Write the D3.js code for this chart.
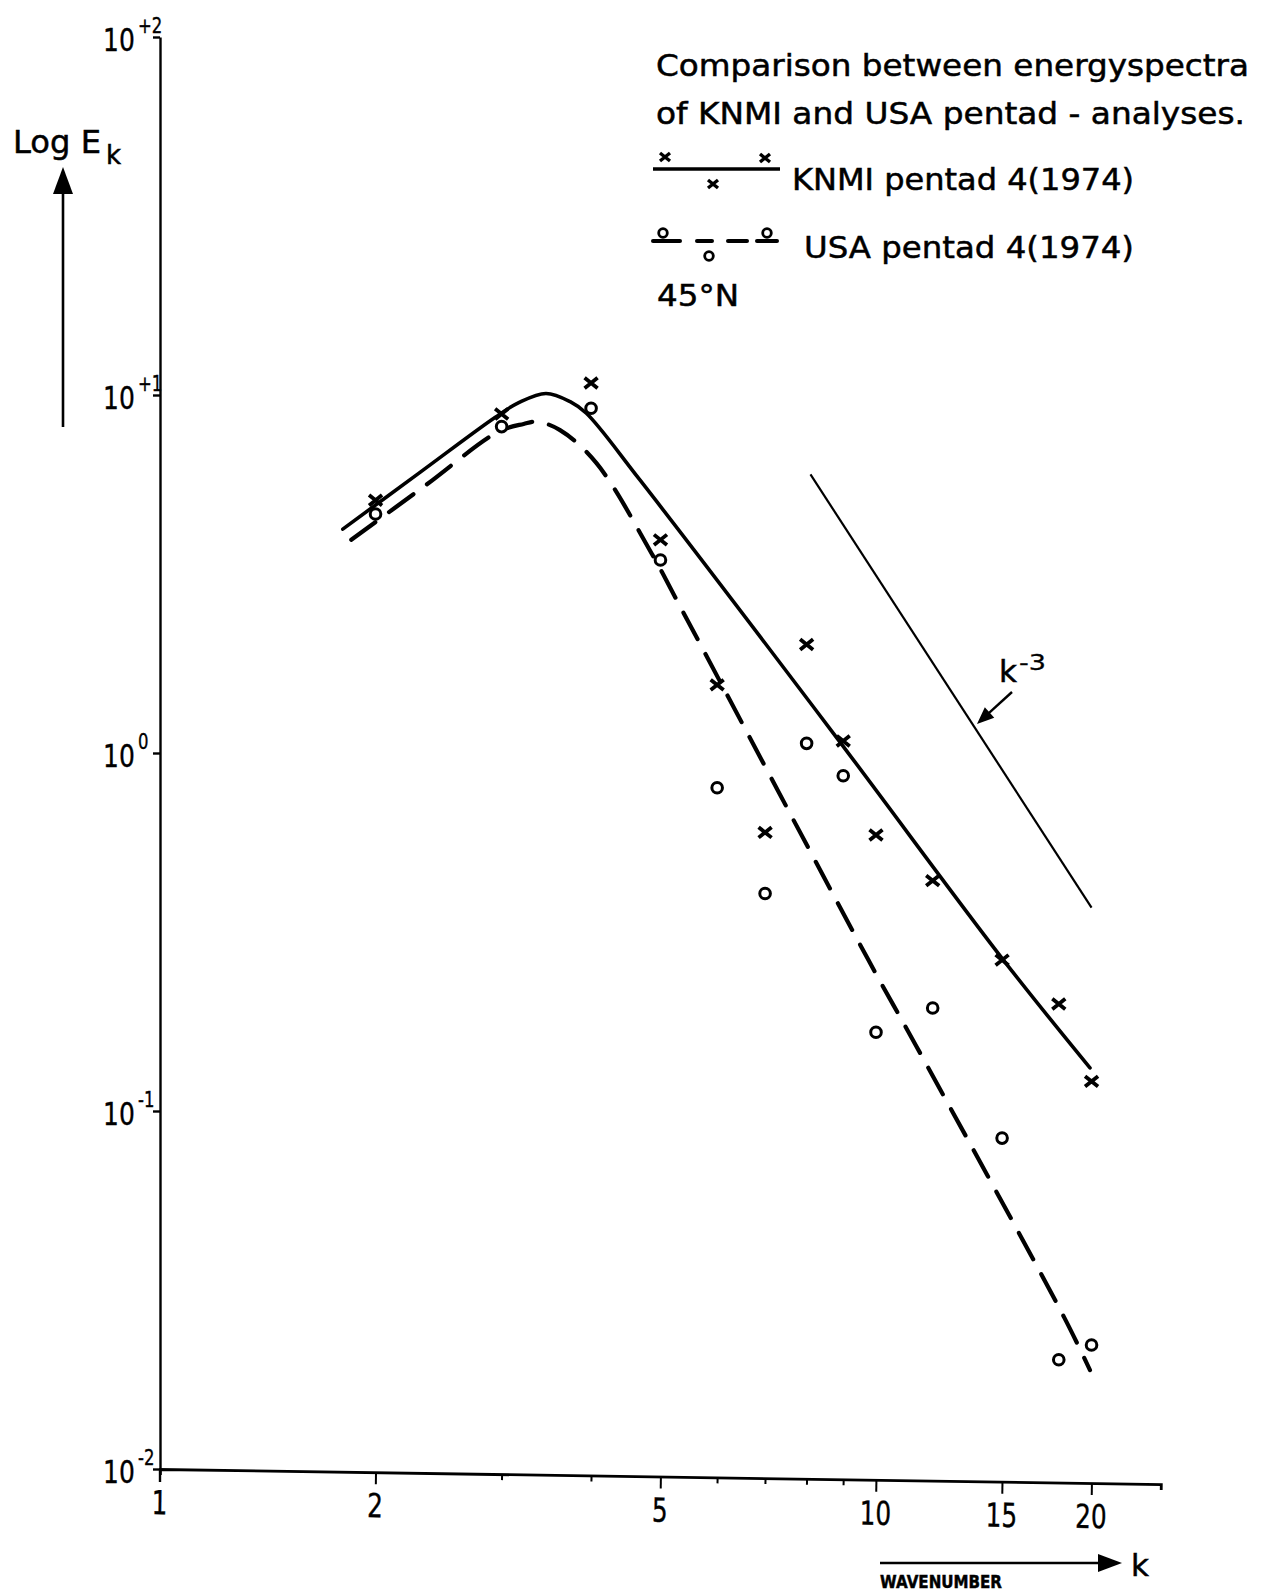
<!DOCTYPE html>
<html><head><meta charset="utf-8">
<script src="https://cdn.jsdelivr.net/npm/d3@7"></script>
<style>body{margin:0;background:#fff} svg{display:block}</style>
</head><body>
<svg id="c" width="1271" height="1594"></svg>
<script>
// ---------------- data ----------------
const kPoints = [2, 3, 4, 5, 6, 7, 8, 9, 10, 12, 15, 18, 20];
const knmiE   = [5.08, 8.85, 10.8, 3.94, 1.55, 0.60, 2.01, 1.08, 0.59, 0.44, 0.264, 0.199, 0.121];
const usaE    = [4.65, 8.16, 9.18, 3.46, 0.80, 0.405, 1.064, 0.864, 0.166, 0.194, 0.084, 0.0202, 0.0222];

const knmiCurveK = [1.80, 2.31, 2.94, 3.17, 3.46, 3.74, 3.94, 4.68, 8.72, 15.0, 19.9];
const knmiCurveE = [4.22, 6.09, 8.67, 9.52, 10.1, 9.58, 8.89, 5.79, 1.135, 0.267, 0.132];

const usaCurveK = [1.85, 2.345, 2.97, 3.22, 3.36, 3.62, 4.07, 4.86, 5.33, 9.76, 11.4, 18.3, 19.9];
const usaCurveE = [3.94, 5.58, 7.9, 8.3, 8.42, 7.98, 6.45, 3.61, 2.56, 0.264, 0.151, 0.0266, 0.0189];

const slopeK = [8.1, 20];
const slopeE = [6.0, 0.37];

const xTickValues = [1, 2, 3, 4, 5, 6, 7, 8, 9, 10, 15, 20];
const xTickLabels = [1, 2, 5, 10, 15, 20];
const yTickValues = [0.01, 0.1, 1, 10, 100];
const yTickExps   = ["-2", "-1", "0", "+1", "+2"];

const titleLines   = ["Comparison between energyspectra", "of KNMI and USA pentad - analyses."];
const legendLabels = ["KNMI pentad 4(1974)", "USA pentad 4(1974)"];
const latitudeLabel = "45°N";

// ---------------- setup ----------------
const svg = d3.select("#c");
const FONT = "DejaVu Sans, Liberation Sans, sans-serif";
svg.append("rect").attr("width", 1271).attr("height", 1594).attr("fill", "#fff");

function txt(g, xx, yy, s, size, len) {
  const t = g.append("text").attr("x", xx).attr("y", yy).attr("font-family", FONT)
    .attr("font-size", size).attr("fill", "#000").attr("stroke", "#000").attr("stroke-width", 0.5)
    .text(s);
  if (len) t.attr("textLength", len).attr("lengthAdjust", "spacingAndGlyphs");
  return t;
}
// narrow text drawn with a horizontal squeeze so its box matches what is seen
function ntxt(g, xx, yy, s, size, sx, anchor) {
  return g.append("text").attr("transform", `translate(${xx},${yy}) scale(${sx},1)`)
    .attr("font-family", FONT).attr("font-size", size).attr("fill", "#000")
    .attr("stroke", "#000").attr("stroke-width", 0.4)
    .attr("text-anchor", anchor || "start").text(s);
}

const x0 = 160, yBottom = 1469, yTop = 37;
const x = d3.scaleLog().domain([1, 25]).range([x0, x0 + 716 * Math.log10(25)]);
const y = d3.scaleLog().domain([0.01, 100]).range([yBottom, yTop]);

// ---------------- axes ----------------
const yAxis = d3.axisLeft(y).tickValues(yTickValues).tickSize(7).tickSizeOuter(0).tickFormat("");
const gy = svg.append("g").attr("transform", `translate(${x0},0)`).call(yAxis);
gy.selectAll("path,line").attr("stroke", "#000").attr("stroke-width", 2.4);
svg.append("line").attr("x1", x0).attr("x2", x0).attr("y1", yBottom).attr("y2", yBottom + 13)
  .attr("stroke", "#000").attr("stroke-width", 2.4);

yTickValues.forEach((v, i) => {
  const ty = y(v);
  ntxt(svg, 103, ty + 14, "10", 32, 0.78);
  ntxt(svg, 138, ty - 4, yTickExps[i], 22, 0.75);
});

// x axis (slightly tilted, as on the scanned original)
const gx = svg.append("g").attr("transform", `translate(0,${yBottom}) rotate(0.86,${x0},0)`);
const xAxis = d3.axisBottom(x).tickValues(xTickValues).tickSizeOuter(0).tickSize(6).tickFormat("");
gx.call(xAxis);
gx.select(".domain").attr("stroke", "#000").attr("stroke-width", 2.8);
gx.selectAll(".tick line").attr("stroke", "#000").attr("stroke-width", 2)
  .attr("y2", d => xTickLabels.includes(d) ? 12 : 6);
gx.selectAll(".tick").filter(d => d === 1).select("line").attr("y2", 0);
xTickLabels.forEach(v => {
  ntxt(gx, x(v), 45, String(v), 33, 0.75, "middle");
});

// ---------------- curves ----------------
const line = d3.line().x(d => x(d[0])).y(d => y(d[1])).curve(d3.curveCatmullRom.alpha(0.5));

svg.append("path").datum(knmiCurveK.map((k, i) => [k, knmiCurveE[i]]))
  .attr("d", line).attr("fill", "none").attr("stroke", "#000")
  .attr("stroke-width", 3.6).attr("stroke-linecap", "round");

svg.append("path").datum(usaCurveK.map((k, i) => [k, usaCurveE[i]]))
  .attr("d", line).attr("fill", "none").attr("stroke", "#000")
  .attr("stroke-width", 4.2).attr("stroke-linecap", "round")
  .attr("stroke-dasharray", "30 17");

svg.append("path").datum(slopeK.map((k, i) => [k, slopeE[i]]))
  .attr("d", d3.line().x(d => x(d[0])).y(d => y(d[1]))).attr("fill", "none")
  .attr("stroke", "#000").attr("stroke-width", 2.2);

// ---------------- markers ----------------
function cross(g, cx, cy, s, w) {
  g.append("path")
    .attr("d", `M${cx - s},${cy - s * 0.8}L${cx + s},${cy + s * 0.8}M${cx - s},${cy + s * 0.8}L${cx + s},${cy - s * 0.8}`)
    .attr("stroke", "#000").attr("stroke-width", w).attr("fill", "none").attr("stroke-linecap", "butt");
}
function circ(g, cx, cy, r, w) {
  g.append("circle").attr("cx", cx).attr("cy", cy).attr("r", r)
    .attr("fill", "#fff").attr("stroke", "#000").attr("stroke-width", w);
}
const gm = svg.append("g");
kPoints.forEach((k, i) => circ(gm, x(k), y(usaE[i]), 5.3, 3));
kPoints.forEach((k, i) => cross(gm, x(k), y(knmiE[i]), 6.5, 3.8));

// ---------------- k^-3 label ----------------
txt(svg, 999, 682, "k", 31);
txt(svg, 1019, 670, "-3", 21, 27).attr("stroke-width", 0.3);
function arrow(g, x1, y1, x2, y2, hl, hw, w) {
  const dx = x2 - x1, dy = y2 - y1, L = Math.hypot(dx, dy);
  const ux = dx / L, uy = dy / L, nx = -uy, ny = ux;
  const bx = x2 - hl * ux, by = y2 - hl * uy;
  g.append("line").attr("x1", x1).attr("y1", y1).attr("x2", bx + ux).attr("y2", by + uy)
    .attr("stroke", "#000").attr("stroke-width", w);
  g.append("path").attr("d", `M${x2},${y2}L${bx + hw * nx},${by + hw * ny}L${bx - hw * nx},${by - hw * ny}Z`)
    .attr("fill", "#000");
}
arrow(svg, 1012, 692, 977, 724, 17, 7, 2.4);

// ---------------- y label ----------------
txt(svg, 13, 153, "Log E", 32, 88);
txt(svg, 106, 164, "k", 26);
arrow(svg, 63, 427, 63, 167, 27, 10, 2.6);

// ---------------- x label ----------------
arrow(svg, 880, 1563, 1122, 1563, 24, 9, 2.6);
txt(svg, 1131, 1576, "k", 31);
txt(svg, 880, 1588, "WAVENUMBER", 17, 122).attr("font-weight", "bold");

// ---------------- title / legend ----------------
const titleWidths = [593, 589];
const titleY = [76, 124];
titleLines.forEach((t, i) => txt(svg, 656, titleY[i], t, 30, titleWidths[i]));
// KNMI legend
svg.append("line").attr("x1", 653).attr("x2", 780).attr("y1", 169).attr("y2", 169)
  .attr("stroke", "#000").attr("stroke-width", 3.6);
cross(svg, 665, 157, 5, 3.4);
cross(svg, 765, 158, 5, 3.4);
cross(svg, 713, 184, 5, 3.4);
txt(svg, 792, 190, legendLabels[0], 30, 342);
// USA legend
[[653, 680], [697, 712], [728, 747], [757, 777]].forEach(([a, b]) => {
  svg.append("line").attr("x1", a).attr("x2", b).attr("y1", 241).attr("y2", 241)
    .attr("stroke", "#000").attr("stroke-width", 4).attr("stroke-linecap", "round");
});
circ(svg, 663, 233, 4.3, 2.8);
circ(svg, 709, 256, 4.3, 2.8);
circ(svg, 767, 233, 4.3, 2.8);
txt(svg, 804, 258, legendLabels[1], 30, 330);
txt(svg, 657, 306, latitudeLabel, 30, 82);
</script>
</body></html>
